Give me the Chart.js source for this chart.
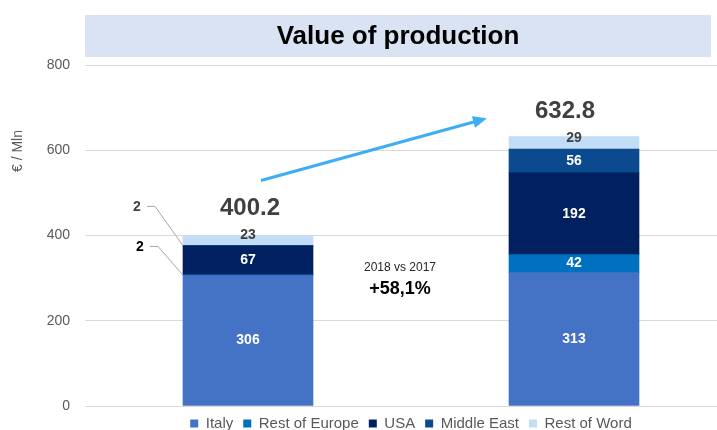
<!DOCTYPE html>
<html>
<head>
<meta charset="utf-8">
<script src="https://cdn.jsdelivr.net/npm/chart.js@4.4.1/dist/chart.umd.min.js"></script>
<style>
  html, body { margin: 0; padding: 0; background: #fff; overflow: hidden; width: 717px; height: 430px; }
  #wrap { position: relative; width: 760px; height: 441px; }
</style>
</head>
<body>
<div id="wrap"><canvas id="chart"></canvas></div>
<script>
// ===== DATA =====
const years = ['2017', '2018'];
const totals = ['400.2', '632.8'];
const seriesNames = ['Italy', 'Rest of Europe', 'USA', 'Middle East', 'Rest of Word'];
const italy = [306, 313];
const restOfEurope = [2, 42];
const usa = [67, 192];
const middleEast = [2, 56];
const restOfWord = [23, 29];
const yTicks = [0, 200, 400, 600, 800];

const COLORS = ['#4472C4', '#0070C0', '#002060', '#0B4A8E', '#C3DDF6'];
const LABEL_COLORS = ['#fff', '#fff', '#fff', '#fff', '#404040'];
const TOTAL_OFFSETS = [[2, -27], [-9, -25]];

const seriesValues = [italy, restOfEurope, usa, middleEast, restOfWord];

// labels, totals, leader lines, arrow, title box
const overlayPlugin = {
    id: 'overlay',
    beforeDraw(chart) {
        const ctx = chart.ctx;
        ctx.save();
        // title box
        ctx.fillStyle = '#DAE3F3';
        ctx.fillRect(85, 15, 626, 42);
        ctx.fillStyle = '#000';
        ctx.font = 'bold 26px "Liberation Sans", Arial, sans-serif';
        ctx.textAlign = 'center';
        ctx.textBaseline = 'middle';
        ctx.fillText('Value of production', 398, 37);
        // y axis title
        ctx.translate(18, 151);
        ctx.rotate(-Math.PI / 2);
        ctx.fillStyle = '#595959';
        ctx.font = '14px "Liberation Sans", Arial, sans-serif';
        ctx.fillText('€ / Mln', 0, 0);
        ctx.restore();
    },
    afterDatasetsDraw(chart) {
        const ctx = chart.ctx;
        const y = chart.scales.y;
        ctx.save();
        ctx.textAlign = 'center';
        ctx.textBaseline = 'middle';

        // segment labels
        chart.data.datasets.forEach((ds, di) => {
            const meta = chart.getDatasetMeta(di);
            meta.data.forEach((bar, i) => {
                const v = ds.data[i];
                if (v < 10) return; // tiny ones get leader labels
                const mid = (bar.y + bar.base) / 2;
                ctx.fillStyle = LABEL_COLORS[di];
                ctx.font = 'bold 14px "Liberation Sans", Arial, sans-serif';
                const off = di === 4 ? -5 : 0;
                ctx.fillText(String(v), bar.x, mid + off);
            });
        });

        // totals
        const last = chart.getDatasetMeta(4);
        ctx.fillStyle = '#404040';
        ctx.font = 'bold 24px "Liberation Sans", Arial, sans-serif';
        last.data.forEach((bar, i) => {
            ctx.fillText(totals[i], bar.x + TOTAL_OFFSETS[i][0], bar.y + TOTAL_OFFSETS[i][1]);
        });

        // leader lines for tiny segments on the 2017 bar
        const leftEdge = last.data[0].x - last.data[0].width / 2;
        const me = chart.getDatasetMeta(3).data[0];
        const re = chart.getDatasetMeta(1).data[0];
        const leaders = [
            { ty: (me.y + me.base) / 2, ly: y.getPixelForValue(466), lx: 137 },
            { ty: (re.y + re.base) / 2, ly: y.getPixelForValue(372), lx: 140 }
        ];
        ctx.strokeStyle = '#A6A6A6';
        ctx.lineWidth = 1;
        leaders.forEach((l, k) => {
            ctx.beginPath();
            ctx.moveTo(l.lx + 10, l.ly - 1);
            ctx.lineTo(l.lx + 18, l.ly - 1);
            ctx.lineTo(leftEdge, l.ty);
            ctx.stroke();
            ctx.fillStyle = k === 0 ? '#404040' : '#000';
            ctx.font = 'bold 14px "Liberation Sans", Arial, sans-serif';
            ctx.fillText('2', l.lx, l.ly);
        });

        // growth arrow
        const x0 = last.data[0].x + 13, y0 = y.getPixelForValue(529);
        const x1 = last.data[1].x - 87, y1 = y.getPixelForValue(675);
        const ang = Math.atan2(y1 - y0, x1 - x0);
        ctx.strokeStyle = '#3DAEF5';
        ctx.fillStyle = '#3DAEF5';
        ctx.lineWidth = 3;
        ctx.beginPath();
        ctx.moveTo(x0, y0);
        ctx.lineTo(x1 - 10 * Math.cos(ang), y1 - 10 * Math.sin(ang));
        ctx.stroke();
        ctx.beginPath();
        ctx.moveTo(x1, y1);
        ctx.lineTo(x1 - 14 * Math.cos(ang) + 6 * Math.sin(ang), y1 - 14 * Math.sin(ang) - 6 * Math.cos(ang));
        ctx.lineTo(x1 - 14 * Math.cos(ang) - 6 * Math.sin(ang), y1 - 14 * Math.sin(ang) + 6 * Math.cos(ang));
        ctx.closePath();
        ctx.fill();

        // growth note
        ctx.fillStyle = '#262626';
        ctx.font = '12px "Liberation Sans", Arial, sans-serif';
        ctx.fillText('2018 vs 2017', 400, 268);
        ctx.fillStyle = '#000';
        ctx.font = 'bold 18px "Liberation Sans", Arial, sans-serif';
        ctx.fillText('+58,1%', 400, 289);
        ctx.restore();
    }
};

new Chart(document.getElementById('chart'), {
    type: 'bar',
    data: {
        labels: years,
        datasets: seriesNames.map((name, i) => ({
            label: name,
            data: seriesValues[i],
            backgroundColor: COLORS[i],
            borderWidth: 0,
            barThickness: 130
        }))
    },
    options: {
        responsive: true,
        maintainAspectRatio: false,
        animation: false,
        layout: { padding: { top: 65, right: 23, left: 0, bottom: 0 } },
        plugins: {
            legend: {
                position: 'bottom',
                fullSize: false,
                labels: {
                    boxWidth: 8,
                    boxHeight: 8,
                    padding: 10,
                    color: '#595959',
                    font: { size: 15, family: '"Liberation Sans", Arial, sans-serif' }
                }
            },
            tooltip: { enabled: false }
        },
        scales: {
            x: {
                stacked: true,
                afterFit: (scale) => { scale.height = 0; },
                ticks: { display: false },
                grid: { display: false },
                border: { display: false }
            },
            y: {
                stacked: true,
                min: 0, max: 800,
                afterBuildTicks: (scale) => { scale.ticks = yTicks.map(v => ({ value: v })); },
                afterFit: (scale) => { scale.width = 85; },
                ticks: {
                    padding: 15,
                    color: '#595959',
                    font: { size: 14, family: '"Liberation Sans", Arial, sans-serif' }
                },
                grid: { color: '#D9D9D9', drawTicks: false },
                border: { display: false }
            }
        }
    },
    plugins: [overlayPlugin]
});
</script>
</body>
</html>
